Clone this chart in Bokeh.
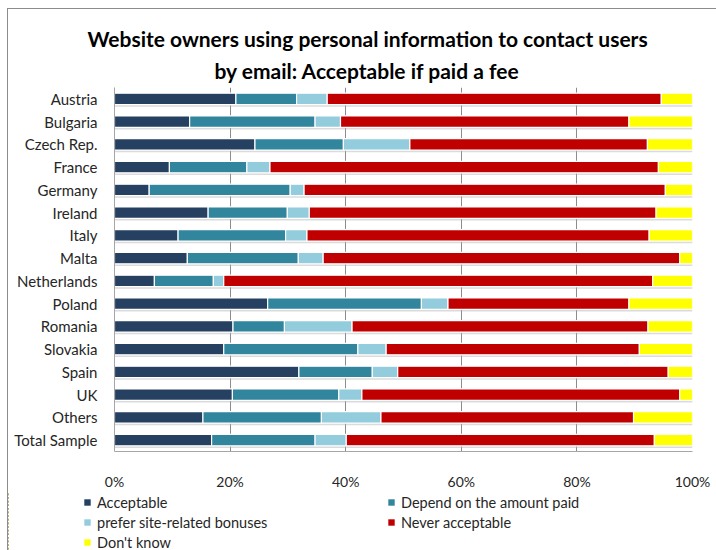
from bokeh.plotting import figure
from bokeh.layouts import column
from bokeh.models import (ColumnDataSource, FactorRange, Range1d, FixedTicker,
                          PrintfTickFormatter, Legend, LegendItem, Title)
from bokeh.transform import dodge
from bokeh.embed import file_html
from bokeh.resources import INLINE

# ---------------- data ----------------
countries = ["Austria", "Bulgaria", "Czech Rep.", "France", "Germany", "Ireland",
             "Italy", "Malta", "Netherlands", "Poland", "Romania", "Slovakia",
             "Spain", "UK", "Others", "Total Sample"]
acceptable = [21.0, 13.0, 24.3, 9.5, 6.0, 16.2, 11.0, 12.6, 6.9, 26.5, 20.5, 18.9, 31.9, 20.4, 15.3, 16.8]
depend     = [10.5, 21.7, 15.3, 13.4, 24.4, 13.7, 18.6, 19.2, 10.2, 26.6, 8.9, 23.2, 12.7, 18.4, 20.5, 17.9]
bonuses    = [5.3, 4.4, 11.5, 4.0, 2.4, 3.8, 3.7, 4.3, 1.8, 4.6, 11.7, 4.9, 4.4, 4.0, 10.3, 5.4]
never      = [57.8, 49.9, 41.1, 67.2, 62.5, 60.0, 59.2, 61.7, 74.2, 31.3, 51.2, 43.8, 46.8, 55.0, 43.7, 53.3]
dont_know  = [5.4, 11.0, 7.8, 5.9, 4.7, 6.3, 7.5, 2.2, 6.9, 11.0, 7.7, 9.2, 4.2, 2.2, 10.2, 6.6]

series_names = ["Acceptable", "Depend on the amount paid", "prefer site-related bonuses",
                "Never acceptable", "Don't know"]
tick_values = [0, 20, 40, 60, 80, 100]
title_lines = ["Website owners using personal information to contact users",
               "by email: Acceptable if paid a fee"]

colors = ["#254061", "#31859C", "#93CDDD", "#C00000", "#FFFF00"]
FONT = "Lato"

keys = ["s0", "s1", "s2", "s3", "s4"]
data = {"country": countries}
for k, vals in zip(keys, [acceptable, depend, bonuses, never, dont_know]):
    data[k] = vals
data["total"] = [sum(v) for v in zip(acceptable, depend, bonuses, never, dont_know)]
source = ColumnDataSource(data)

# ---------------- main chart ----------------
p = figure(width=708, height=483, output_backend="svg", toolbar_location=None,
           y_range=FactorRange(factors=list(reversed(countries))),
           x_range=Range1d(0, 100), min_border_left=106, min_border_right=24,
           min_border_top=78, min_border_bottom=35)
p.outline_line_color = None
p.background_fill_color = "white"
p.border_fill_color = "white"

# soft shadows under the bars
p.hbar(y=dodge("country", -0.1, range=p.y_range), left=0, right="total", height=0.5,
       source=source, fill_color="#b0b0b0", fill_alpha=0.45, line_color=None)

renderers = p.hbar_stack(keys, y="country", height=0.5, color=colors, source=source,
                         line_color="white", line_width=1.2)

p.xaxis.ticker = FixedTicker(ticks=tick_values)
p.xaxis.formatter = PrintfTickFormatter(format="%d%%")
p.xgrid.ticker = FixedTicker(ticks=tick_values)
p.xgrid.grid_line_color = "#8c8c8c"
p.ygrid.grid_line_color = None
for ax in (p.xaxis[0], p.yaxis[0]):
    ax.major_tick_line_color = None
    ax.minor_tick_line_color = None
    ax.axis_line_color = "#a6a6a6"
    ax.major_label_text_font = FONT
    ax.major_label_text_color = "#262626"
p.xaxis.major_label_text_font_size = "14px"
p.yaxis.major_label_text_font_size = "15px"
p.xaxis.major_label_standoff = 15
p.yaxis.major_label_standoff = 11

# title lines (line 2 added first so it sits next to the plot)
p.title.visible = False
for txt, off, so in [(title_lines[1], 100, 10), (title_lines[0], -27, 0)]:
    p.add_layout(Title(text=txt, align="left", offset=off, standoff=so,
                       text_font=FONT, text_font_style="bold",
                       text_font_size="21px", text_color="black"), "above")

# ---------------- legend strip ----------------
# The strip's x range lies beyond the data, so its bars stay out of view and
# only serve as legend glyph sources.
leg = figure(width=708, height=58, output_backend="svg", toolbar_location=None,
             x_range=Range1d(1000, 1100), y_range=FactorRange(factors=countries),
             x_axis_location=None, y_axis_location=None, min_border=0)
if "frame_align" in leg.properties():
    leg.frame_align = False
leg.outline_line_color = None
leg.xgrid.visible = False
leg.ygrid.visible = False
leg_renderers = [leg.hbar(y="country", left=0, right=k, height=0.5, source=source,
                          fill_color=c, line_color=None)
                 for k, c in zip(keys, colors)]
items = [LegendItem(label=n, renderers=[r]) for n, r in zip(series_names, leg_renderers)]
legend = Legend(items=items, location=(75, -2), orientation="horizontal", ncols=2,
                padding=0, margin=0, spacing=0, glyph_width=8, glyph_height=8,
                label_standoff=6, label_width=290, label_height=20,
                label_text_font=FONT, label_text_font_size="14.5px",
                label_text_color="#262626", border_line_color=None,
                background_fill_alpha=0)
leg.add_layout(legend, "center")

layout = column(p, leg, spacing=0,
                styles={"margin-left": "7px", "margin-top": "8px",
                        "border-left": "1px solid #8c8c8c",
                        "border-top": "1px solid #8c8c8c"})

open("out.html", "w").write(file_html(layout, INLINE))
